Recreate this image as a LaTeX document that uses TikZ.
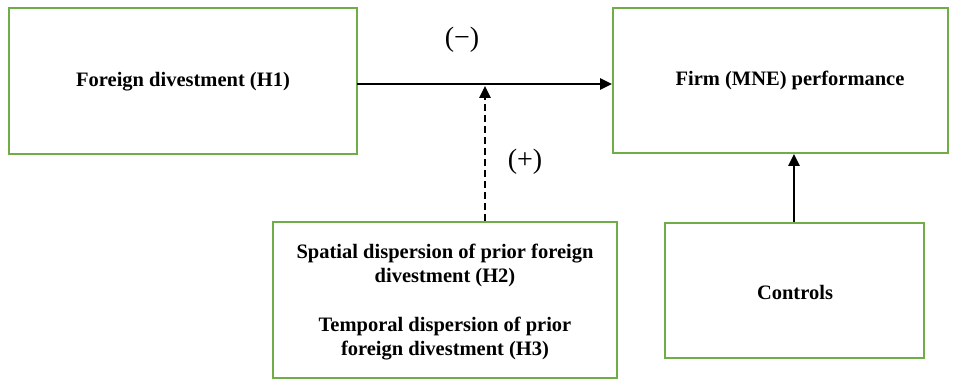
\documentclass[tikz,border=0pt]{standalone}
\usepackage{fontspec}
\setmainfont{Liberation Serif}
\usetikzlibrary{arrows.meta}
\definecolor{boxgreen}{RGB}{112,173,71}
\begin{document}
\begin{tikzpicture}[x=1pt,y=-1pt,
  box/.style={draw=boxgreen,line width=2pt,fill=white},
  lbl/.style={font=\fontsize{20.5}{24}\selectfont\bfseries,align=center},
  sign/.style={font=\fontsize{28}{30}\selectfont},
  conn/.style={line width=2.6pt,-{Triangle[length=12pt,width=11pt]}}]
\useasboundingbox (0,0) rectangle (958,379);
\draw[box] (9,8) rectangle (357,154);
\draw[box] (613,8) rectangle (948,153);
\draw[box] (273,222) rectangle (617,378);
\draw[box] (665,223) rectangle (924,358);
\node[lbl] (h1) at (183,82) {Foreign divestment (H1)};
\node[lbl] (perf) at (790,80) {Firm (MNE) performance};
\node[lbl] (h23) at (445,302) {Spatial dispersion of prior foreign\\divestment (H2)\\[25pt]Temporal dispersion of prior\\foreign divestment (H3)};
\node[lbl] (ctrl) at (795,292) {Controls};
\coordinate (a1) at (357,84);
\coordinate (a2) at (612,84);
\coordinate (m1) at (485,221);
\coordinate (m2) at (485,86);
\coordinate (c1) at (794,222);
\coordinate (c2) at (794,154);
\draw[conn] (a1) -- (a2);
\draw[conn,dash pattern=on 7pt off 4pt] (m1) -- (m2);
\draw[conn] (c1) -- (c2);
\node[sign] (neg) at (462,40) {(−)};
\node[sign] (pos) at (525,162) {(+)};
\end{tikzpicture}
\end{document}
